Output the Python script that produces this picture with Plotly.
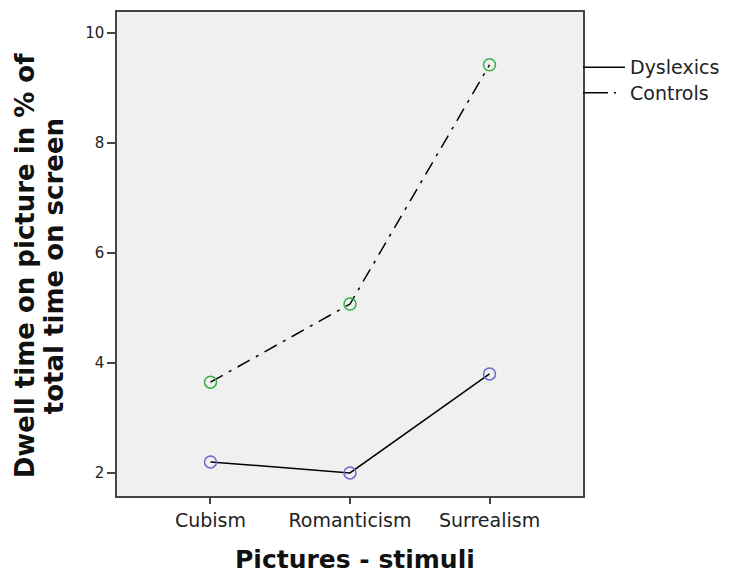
import plotly.graph_objects as go

categories = ["Cubism", "Romanticism", "Surrealism"]
dyslexics = [2.2, 2.0, 3.8]
controls = [3.65, 5.07, 9.42]
y_ticks = [2, 4, 6, 8, 10]
series_names = ["Dyslexics", "Controls"]

fig = go.Figure()
fig.add_trace(go.Scatter(
    x=categories, y=controls, mode="lines+markers", name=series_names[1],
    line=dict(color="black", width=1.5, dash="14px,7px,3px,7px"),
    marker=dict(symbol="circle-open", size=12, color="#33b045", line=dict(width=1.5)),
    showlegend=False,
))
fig.add_trace(go.Scatter(
    x=categories, y=dyslexics, mode="lines+markers", name=series_names[0],
    line=dict(color="black", width=1.5),
    marker=dict(symbol="circle-open", size=12, color="#6a6acb", line=dict(width=1.5)),
    showlegend=False,
))

# Manual legend attached to the plot's right border
legend_y = [0.886, 0.833]
dashes = ["solid", "25px,6px,2px,40px"]
for name, yy, d in zip(series_names, legend_y, dashes):
    fig.add_shape(type="line", xref="paper", yref="paper", x0=1.0, x1=1.09, y0=yy, y1=yy,
                  line=dict(color="black", width=1.5, dash=d))
    fig.add_annotation(xref="paper", yref="paper", x=1.097, y=yy, text=name, showarrow=False,
                       xanchor="left", yanchor="middle",
                       font=dict(family="DejaVu Sans", size=19, color="#222"))

# Axis titles
y_title_lines = ["Dwell time on picture in % of", "total time on screen"]
for line_text, xx in zip(y_title_lines, [-0.197, -0.135]):
    fig.add_annotation(xref="paper", yref="paper", x=xx, y=0.475,
                       text="<b>" + line_text + "</b>",
                       textangle=-90, showarrow=False, xanchor="center", yanchor="middle",
                       font=dict(family="DejaVu Sans", size=26, color="#111"))
fig.add_annotation(xref="paper", yref="paper", x=0.511, y=-0.132,
                   text="<b>Pictures - stimuli</b>", showarrow=False,
                   xanchor="center", yanchor="middle",
                   font=dict(family="DejaVu Sans", size=25, color="#111"))

# The page body adds an 8px offset, so the figure is sized to fit the window
fig.update_layout(
    width=728, height=568,
    margin=dict(l=109, r=153, t=4, b=80, autoexpand=False),
    paper_bgcolor="white", plot_bgcolor="#f0f0f0",
    font=dict(family="DejaVu Sans", color="#222"),
)
fig.update_xaxes(
    type="category", range=[-0.67, 2.67],
    showline=True, mirror=True, linecolor="#444", linewidth=1.5,
    ticks="outside", ticklen=6, tickcolor="#444", tickwidth=1.5,
    showgrid=False, zeroline=False,
    tickfont=dict(size=19),
)
fig.update_yaxes(
    range=[1.58, 10.38], tickvals=y_ticks,
    showline=True, mirror=True, linecolor="#444", linewidth=1.5,
    ticks="outside", ticklen=8, tickcolor="#444", tickwidth=1.5,
    showgrid=False, zeroline=False,
    tickfont=dict(size=15),
)

fig.write_html("out.html")
